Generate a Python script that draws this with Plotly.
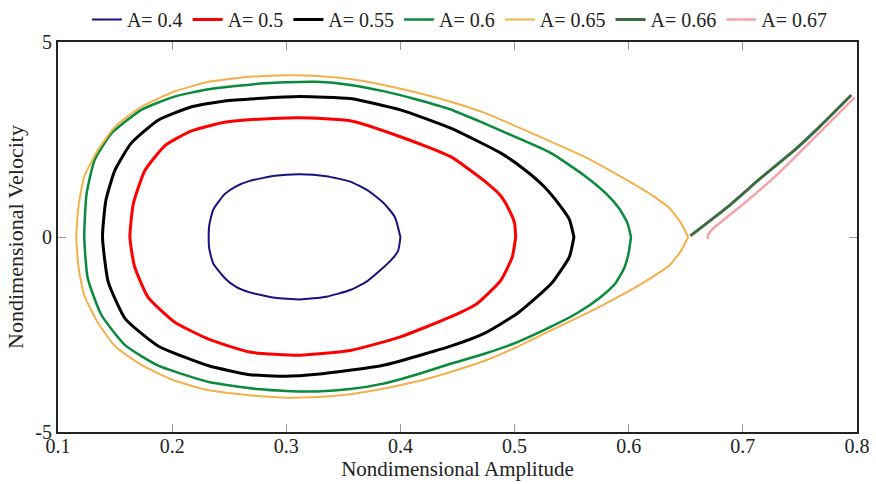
import plotly.graph_objects as go

# ---- data (top half left->right, bottom half right->left)
a04_top_x = [0.232, 0.2325, 0.236, 0.246, 0.256, 0.268, 0.290, 0.312, 0.335, 0.356, 0.371, 0.385, 0.395, 0.400]
a04_top_y = [0.0, 0.30, 0.70, 1.10, 1.30, 1.44, 1.57, 1.61, 1.56, 1.42, 1.20, 0.88, 0.52, 0.0]
a04_bot_x = [0.400, 0.398, 0.391, 0.371, 0.356, 0.335, 0.312, 0.290, 0.268, 0.256, 0.246, 0.236, 0.2325, 0.232]
a04_bot_y = [0.0, -0.35, -0.62, -1.13, -1.36, -1.53, -1.60, -1.56, -1.42, -1.28, -1.05, -0.68, -0.30, 0.0]

a05_top_x = [0.163, 0.166, 0.176, 0.194, 0.217, 0.246, 0.275, 0.312, 0.356, 0.400, 0.444, 0.473, 0.488, 0.496, 0.500, 0.501]
a05_top_y = [0.0, 0.85, 1.70, 2.35, 2.72, 2.94, 3.02, 3.06, 2.98, 2.57, 2.06, 1.45, 1.05, 0.65, 0.35, 0.0]
a05_bot_x = [0.501, 0.498, 0.488, 0.467, 0.444, 0.400, 0.356, 0.312, 0.268, 0.232, 0.202, 0.179, 0.167, 0.163]
a05_bot_y = [0.0, -0.51, -1.11, -1.71, -2.05, -2.56, -2.91, -3.03, -2.95, -2.62, -2.18, -1.55, -0.75, 0.0]

a055_top_x = [0.139, 0.142, 0.150, 0.164, 0.188, 0.217, 0.246, 0.275, 0.312, 0.356, 0.400, 0.444, 0.488, 0.510, 0.526, 0.540, 0.548, 0.552]
a055_top_y = [0.0, 0.95, 1.72, 2.40, 3.00, 3.34, 3.49, 3.55, 3.60, 3.55, 3.26, 2.79, 2.15, 1.70, 1.29, 0.80, 0.45, 0.0]
a055_bot_x = [0.552, 0.548, 0.532, 0.502, 0.473, 0.444, 0.385, 0.327, 0.298, 0.268, 0.232, 0.188, 0.159, 0.144, 0.139]
a055_bot_y = [0.0, -0.51, -1.20, -1.97, -2.48, -2.80, -3.29, -3.52, -3.57, -3.53, -3.30, -2.80, -2.10, -1.15, 0.0]

a06_top_x = [0.123, 0.125, 0.132, 0.147, 0.173, 0.202, 0.232, 0.275, 0.300, 0.327, 0.356, 0.385, 0.415, 0.444, 0.473, 0.502, 0.532, 0.561, 0.580, 0.592, 0.599, 0.602]
a06_top_y = [0.0, 1.10, 1.97, 2.66, 3.26, 3.60, 3.79, 3.93, 3.97, 3.98, 3.90, 3.74, 3.52, 3.27, 2.92, 2.55, 2.15, 1.58, 1.12, 0.72, 0.35, 0.0]
a06_bot_x = [0.602, 0.600, 0.596, 0.588, 0.575, 0.555, 0.532, 0.502, 0.473, 0.444, 0.415, 0.385, 0.356, 0.327, 0.300, 0.275, 0.232, 0.188, 0.159, 0.138, 0.126, 0.123]
a06_bot_y = [0.0, -0.40, -0.80, -1.20, -1.55, -1.95, -2.30, -2.70, -3.00, -3.25, -3.52, -3.76, -3.90, -3.96, -3.95, -3.90, -3.72, -3.30, -2.78, -2.00, -1.05, 0.0]

a065_top_x = [0.116, 0.118, 0.123, 0.135, 0.150, 0.173, 0.202, 0.232, 0.268, 0.300, 0.327, 0.356, 0.385, 0.415, 0.444, 0.475, 0.502, 0.530, 0.561, 0.590, 0.619, 0.636, 0.646, 0.652]
a065_top_y = [0.0, 0.80, 1.55, 2.23, 2.83, 3.34, 3.73, 3.98, 4.11, 4.15, 4.13, 4.05, 3.90, 3.70, 3.47, 3.17, 2.83, 2.47, 2.06, 1.60, 1.10, 0.73, 0.35, 0.0]
a065_bot_x = [0.652, 0.646, 0.636, 0.619, 0.590, 0.561, 0.530, 0.502, 0.475, 0.444, 0.415, 0.385, 0.356, 0.327, 0.300, 0.275, 0.232, 0.202, 0.173, 0.150, 0.135, 0.123, 0.118, 0.116]
a065_bot_y = [0.0, -0.35, -0.72, -1.06, -1.55, -1.99, -2.42, -2.82, -3.16, -3.46, -3.70, -3.89, -4.03, -4.10, -4.12, -4.08, -3.93, -3.68, -3.28, -2.80, -2.20, -1.50, -0.78, 0.0]

a066_x = [0.654, 0.687, 0.716, 0.745, 0.768, 0.795]
a066_y = [0.03, 0.78, 1.52, 2.22, 2.85, 3.64]

a067_x = [0.669, 0.670, 0.674, 0.701, 0.730, 0.768, 0.798]
a067_y = [-0.05, 0.08, 0.22, 0.86, 1.60, 2.70, 3.58]

x_ticks = [0.1, 0.2, 0.3, 0.4, 0.5, 0.6, 0.7, 0.8]
x_tick_text = ["0.1", "0.2", "0.3", "0.4", "0.5", "0.6", "0.7", "0.8"]
y_ticks = [-5, 0, 5]
y_tick_text = ["-5", "0", "5"]

series = [
    ("A= 0.4", a04_top_x + a04_bot_x, a04_top_y + a04_bot_y, "#16127f", 2),
    ("A= 0.5", a05_top_x + a05_bot_x, a05_top_y + a05_bot_y, "#ff0000", 3),
    ("A= 0.55", a055_top_x + a055_bot_x, a055_top_y + a055_bot_y, "#000000", 3),
    ("A= 0.6", a06_top_x + a06_bot_x, a06_top_y + a06_bot_y, "#0a8a3c", 2.5),
    ("A= 0.65", a065_top_x + a065_bot_x, a065_top_y + a065_bot_y, "#f5b04c", 2),
    ("A= 0.66", a066_x, a066_y, "#3d6b40", 3),
    ("A= 0.67", a067_x, a067_y, "#f4a3ab", 2.5),
]

FONT = "Liberation Serif, Times New Roman, serif"

fig = go.Figure()
for name, xs, ys, color, w in series:
    fig.add_trace(go.Scatter(x=xs, y=ys, mode="lines", name=name,
                             line=dict(color=color, width=w, shape="spline", smoothing=0.5)))

fig.update_layout(
    width=876, height=484,
    margin=dict(l=58, r=19, t=42, b=52, autoexpand=False),
    paper_bgcolor="white", plot_bgcolor="white",
    font=dict(family=FONT, size=20, color="#222"),
    legend=dict(orientation="h", xref="container", yref="container",
                x=0.525, xanchor="center", y=1.0, yanchor="top",
                font=dict(family=FONT, size=20, color="#222"),
                itemwidth=30, tracegroupgap=0, bgcolor="rgba(0,0,0,0)"),
    showlegend=True,
)
fig.update_xaxes(range=[0.1, 0.8], tickvals=x_ticks, ticktext=x_tick_text,
                 ticks="inside", ticklen=8, tickcolor="#999", tickwidth=1,
                 showline=True, linecolor="#222", linewidth=2, mirror="allticks",
                 showgrid=False, zeroline=False, automargin=False,
                 ticklabelstandoff=-5,
                 title=dict(text="Nondimensional Amplitude", standoff=0,
                            font=dict(family=FONT, size=21, color="#222")),
                 tickfont=dict(family=FONT, size=20, color="#222"))
fig.update_yaxes(range=[-5, 5], tickvals=y_ticks, ticktext=y_tick_text,
                 ticks="inside", ticklen=8, tickcolor="#999", tickwidth=1,
                 showline=True, linecolor="#222", linewidth=2, mirror="allticks",
                 showgrid=False, zeroline=False, automargin=False,
                 title=dict(text="Nondimensional Velocity", standoff=6,
                            font=dict(family=FONT, size=22, color="#222")),
                 tickfont=dict(family=FONT, size=20, color="#222"))

fig.write_html("out.html", config={"displayModeBar": False},
               post_script="document.body.style.margin='0';")
